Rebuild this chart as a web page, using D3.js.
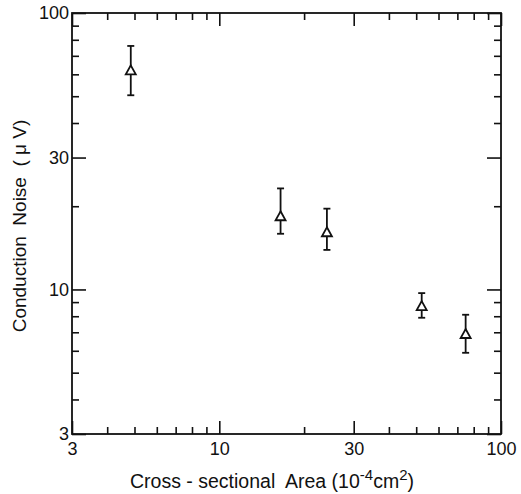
<!doctype html>
<html>
<head>
    <title>Conduction Noise vs Area</title>
    <meta charset="utf-8">
    <script src="https://d3js.org/d3.v7.min.js"></script>
    <style>
        body { margin: 0; background: #fff; }
        svg { display: block; }
        text { font-family: "Liberation Sans", Arial, sans-serif; fill: #111; white-space: pre; }
    </style>
</head>
<body>
    <svg width="521" height="494"></svg>
    <script>
        /* data */
        var area   = [4.85, 16.5, 24.1, 52.3, 74.9];     // 10^-4 cm^2
        var noise  = [62, 18.4, 16.1, 8.7, 6.9];        // uV
        var errHi  = [76, 23.2, 19.6, 9.7, 8.1];
        var errLo  = [50.4, 15.9, 13.9, 7.9, 5.9];

        var majorTicks = [3, 10, 30, 100];
        var xMinor = [4, 5, 6, 7, 8, 9, 20, 40, 50, 60, 70, 80, 90];
        var yMinor = [4, 5, 6, 7, 8, 9, 20, 40, 50, 60, 70, 80, 90];

        var svg = d3.select("svg"),
            padLeft = 72, padTop = 13,
            width = 501 - padLeft,
            height = 434 - padTop;

        var g = svg.append("g")
            .attr("transform", "translate(" + padLeft + "," + padTop + ")");

        var x = d3.scaleLog().domain([3, 100]).range([0, width]);
        var y = d3.scaleLog().domain([3, 100]).range([height, 0]);

        function clean(sel) {
            sel.select(".domain").remove();
            sel.selectAll("line").attr("stroke", "#111").attr("stroke-width", 1.6);
            sel.selectAll("text").attr("font-size", 18).attr("fill", "#111")
               .style("font-family", "Liberation Sans, Arial, sans-serif");
        }

        // bottom
        g.append("g").attr("transform", "translate(0," + height + ")")
         .call(d3.axisBottom(x).tickValues(xMinor).tickSize(-7).tickFormat(""))
         .call(clean);
        g.append("g").attr("transform", "translate(0," + height + ")")
         .call(d3.axisBottom(x).tickValues(majorTicks).tickSize(-13).tickPadding(8).tickFormat(d3.format("d")))
         .call(clean);
        // top
        g.append("g")
         .call(d3.axisTop(x).tickValues(xMinor).tickSize(-7).tickFormat(""))
         .call(clean);
        g.append("g")
         .call(d3.axisTop(x).tickValues(majorTicks).tickSize(-13).tickFormat(""))
         .call(clean);
        // left
        g.append("g")
         .call(d3.axisLeft(y).tickValues(yMinor).tickSize(-7).tickFormat(""))
         .call(clean);
        g.append("g")
         .call(d3.axisLeft(y).tickValues(majorTicks).tickSize(-14).tickPadding(3).tickFormat(d3.format("d")))
         .call(clean);
        // right
        g.append("g").attr("transform", "translate(" + width + ",0)")
         .call(d3.axisRight(y).tickValues(yMinor).tickSize(-7).tickFormat(""))
         .call(clean);
        g.append("g").attr("transform", "translate(" + width + ",0)")
         .call(d3.axisRight(y).tickValues(majorTicks).tickSize(-14).tickFormat(""))
         .call(clean);

        // frame
        g.append("rect")
         .attr("width", width).attr("height", height)
         .attr("fill", "none").attr("stroke", "#111").attr("stroke-width", 1.8);

        var pts = area.map(function(a, i) {
            return { a: a, n: noise[i], hi: errHi[i], lo: errLo[i] };
        });

        // error bars
        var eb = g.selectAll(".err").data(pts).enter().append("g")
            .attr("class", "err")
            .attr("stroke", "#111").attr("stroke-width", 1.8);
        eb.append("line")
          .attr("x1", function(d) { return x(d.a); })
          .attr("x2", function(d) { return x(d.a); })
          .attr("y1", function(d) { return y(d.hi); })
          .attr("y2", function(d) { return y(d.lo); });
        eb.append("line")
          .attr("x1", function(d) { return x(d.a) - 3.5; })
          .attr("x2", function(d) { return x(d.a) + 3.5; })
          .attr("y1", function(d) { return y(d.hi); })
          .attr("y2", function(d) { return y(d.hi); });
        eb.append("line")
          .attr("x1", function(d) { return x(d.a) - 3.5; })
          .attr("x2", function(d) { return x(d.a) + 3.5; })
          .attr("y1", function(d) { return y(d.lo); })
          .attr("y2", function(d) { return y(d.lo); });

        // open triangles
        g.selectAll(".tri").data(pts).enter().append("path")
         .attr("class", "tri")
         .attr("d", "M0,-5L5,4L-5,4Z")
         .attr("transform", function(d) { return "translate(" + x(d.a) + "," + y(d.n) + ")"; })
         .attr("fill", "#fff").attr("stroke", "#111").attr("stroke-width", 1.8)
         .attr("stroke-linejoin", "miter");

        // axis titles
        var xt = svg.append("text")
            .attr("x", 272).attr("y", 488)
            .attr("text-anchor", "middle")
            .attr("font-size", 19.5);
        xt.append("tspan").text("Cross - sectional  Area (10");
        xt.append("tspan").attr("dy", -8).attr("font-size", 15).text("-4");
        xt.append("tspan").attr("dy", 8).text("cm");
        xt.append("tspan").attr("dy", -8).attr("font-size", 15).text("2");
        xt.append("tspan").attr("dy", 8).text(")");

        svg.append("text")
            .attr("transform", "translate(26,226) rotate(-90)")
            .attr("text-anchor", "middle")
            .attr("font-size", 19)
            .text("Conduction  Noise  ( \u03bc V)");
    </script>
</body>
</html>
